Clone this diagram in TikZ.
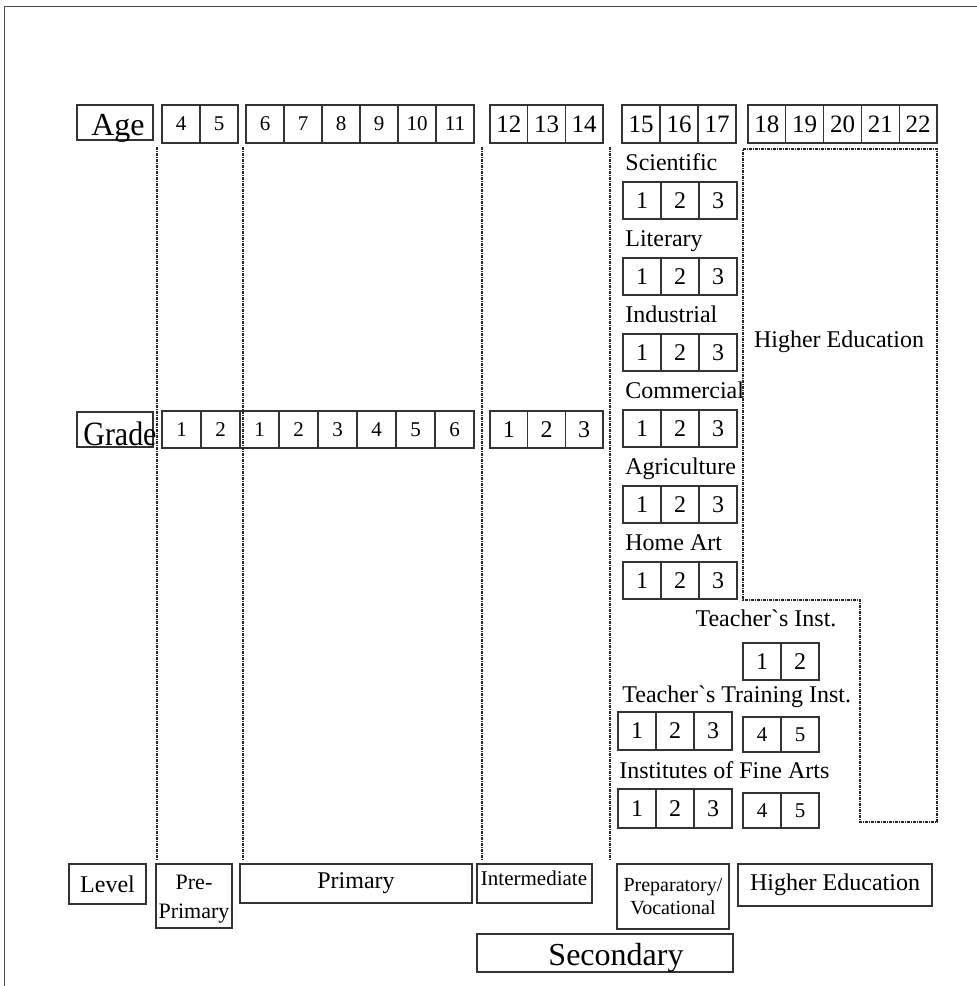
\documentclass[tikz,border=0pt]{standalone}
\usepackage{fontspec}
\setmainfont{Liberation Serif}
\newcommand{\ptsize}[1]{\fontsize{#1}{#1}\selectfont}
\tikzset{
  box/.style={draw=black!80, line width=0.6pt, inner sep=0pt, outer sep=0pt},
  cell/.style={box, minimum width=19pt, minimum height=18.5pt, font=\ptsize{12}},
  smallcell/.style={cell, font=\ptsize{10.5}},
  sep/.style={black!85, line width=0.75pt, dash pattern=on 1.5pt off 0.5pt on 0.5pt off 0.5pt},
  lbl/.style={inner sep=0pt, anchor=base west, font=\ptsize{12}}
}

\begin{document}
\begin{tikzpicture}[x=0.5pt, y=-0.5pt]
  \def\Yage{124};
  \def\Ygrade{429.5};
  \def\Ytop{147};
  \def\Ybot{860};
  \useasboundingbox (0,0) rectangle (977,986);
  \draw[black!70, line width=0.5pt] (4,986) -- (4,6) -- (977,6);

  % age row
  \node[box, minimum width=38pt, minimum height=17.5pt] (agebox) at (115,122.5) {};
  \node[anchor=base east, inner sep=0pt, font=\ptsize{16}] (age) at (145,135) {Age};
  \foreach \a [count=\i from 0] in {4,5}
    \node[smallcell, minimum height=19pt] (age\a) at (181+38*\i,\Yage) {\a};
  \foreach \a [count=\i from 0] in {6,7,8,9,10,11}
    \node[smallcell, minimum height=19pt] (age\a) at (265+38*\i,\Yage) {\a};
  \foreach \a [count=\i from 0] in {12,13,14}
    \node[cell, minimum width=18.85pt, minimum height=19pt, font=\ptsize{12.5}] (age\a) at (508.8+37.7*\i,\Yage) {\a};
  \foreach \a [count=\i from 0] in {15,16,17}
    \node[cell, minimum height=19pt, font=\ptsize{12.5}] (age\a) at (641+38*\i,\Yage) {\a};
  \foreach \a [count=\i from 0] in {18,19,20,21,22}
    \node[cell, minimum width=18.9pt, minimum height=19pt, font=\ptsize{12.5}] (age\a) at (766.9+37.8*\i,\Yage) {\a};

  % grade row
  \node[box, minimum width=38pt, minimum height=17.5pt] (gradebox) at (115,429.5) {};
  \node[anchor=base west, inner sep=0pt, font=\ptsize{17}] (grade) at (83,445) {\scalebox{0.88}[1]{Grade}};
  \foreach \g [count=\i from 0] in {1,2,1,2,3,4,5,6}
    \node[cell, minimum width=19.5pt, font=\ptsize{10.5}] (gr\i) at (181.5+39*\i,\Ygrade) {\g};
  \foreach \g [count=\i from 0] in {1,2,3}
    \node[cell, minimum width=18.85pt] (gi\g) at (508.8+37.7*\i,\Ygrade) {\g};

  % separators
  \foreach \x in {157,243,482,610}
    \draw[sep] (\x,\Ytop) -- (\x,\Ybot);
  \draw[sep] (743,149) -- (937,149) -- (937,822) -- (860,822) -- (860,600) -- (743,600) -- cycle;
  \node[inner sep=0pt, anchor=base, font=\ptsize{12}] (higher) at (839,347) {Higher Education};

  % secondary branches
  \foreach \lbl/\nm [count=\k from 0] in {Scientific/sci, Literary/lit, Industrial/ind,
      Commercial/com, Agriculture/agr, Home Art/home} {
    \node[lbl] (\nm) at (625,170+76*\k) {\lbl};
    \foreach \g [count=\j from 0] in {1,2,3}
      \node[cell] (\nm\g) at (642+38*\j,200.5+76*\k) {\g};
  }

  \node[inner sep=0pt, anchor=base, font=\ptsize{12}] (tinst) at (766,626) {Teacher\textasciigrave s Inst.};
  \node[cell] (tinst1) at (762,661.5) {1};
  \node[cell] (tinst2) at (800,661.5) {2};

  \node[lbl] (ttrain) at (622,702) {Teacher\textasciigrave s Training Inst.};
  \foreach \g [count=\j from 0] in {1,2,3}
    \node[cell, minimum height=19pt] (ttrain\g) at (637+38*\j,731) {\g};
  \node[smallcell, minimum height=17.5pt] (ttrain4) at (762,734.5) {4};
  \node[smallcell, minimum height=17.5pt] (ttrain5) at (800,734.5) {5};

  \node[lbl] (fine) at (619,778) {Institutes of Fine Arts};
  \foreach \g [count=\j from 0] in {1,2,3}
    \node[cell, minimum height=19.5pt] (fine\g) at (637+38*\j,808.5) {\g};
  \node[smallcell, minimum height=17.5pt] (fine4) at (762,810.5) {4};
  \node[smallcell, minimum height=17.5pt] (fine5) at (800,810.5) {5};

  % level row
  \node[box, minimum width=38.5pt, minimum height=20pt, font=\ptsize{12}] (level) at (107.5,884) {Level};
  \node[box, minimum width=38pt, minimum height=32pt] (prepribox) at (194,896) {};
  \node[inner sep=0pt, align=center, font=\fontsize{11}{14.5}\selectfont] (prepri) at (194,899) {Pre-\\Primary};
  \node[box, minimum width=116pt, minimum height=19.5pt, font=\ptsize{12}] (primary) at (356,883.5) {Primary};
  \node[box, minimum width=57.5pt, minimum height=19.5pt] (interbox) at (534.5,883.5) {};
  \node[inner sep=0pt, anchor=base, font=\ptsize{10.5}] (inter) at (534,885) {Intermediate};
  \node[box, minimum width=56pt, minimum height=32.5pt, align=center,
        font=\fontsize{10}{11.5}\selectfont] (prep) at (673,896.5) {Preparatory/\\Vocational};
  \node[box, minimum width=97pt, minimum height=21pt, font=\ptsize{12}] (higherlev) at (835,885) {Higher Education};
  \node[box, minimum width=128pt, minimum height=19pt] (secbox) at (605,953) {};
  \node[inner sep=0pt, anchor=base, font=\ptsize{16}] (secondary) at (616,965) {Secondary};
\end{tikzpicture}
\end{document}
